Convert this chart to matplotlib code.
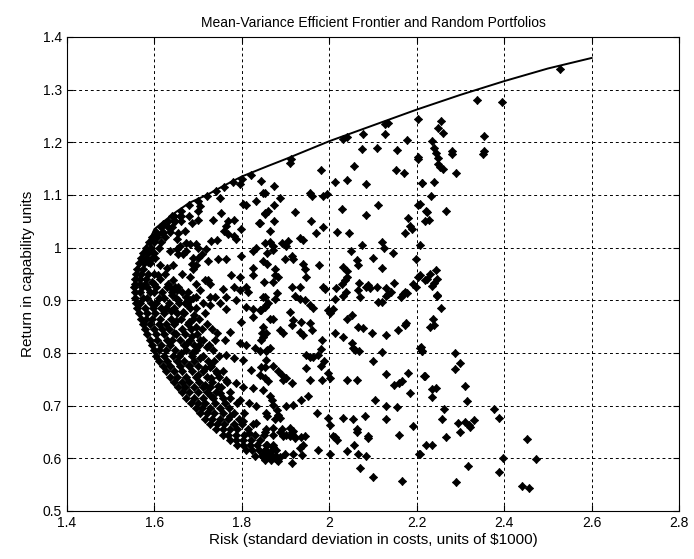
import matplotlib
matplotlib.use("Agg")
import matplotlib.pyplot as plt

# efficient frontier
frontier_risk = [1.556, 1.553, 1.555, 1.561, 1.569, 1.58, 1.592, 1.60, 1.625, 1.65, 1.68,
                 1.72, 1.76, 1.80, 1.86, 1.90, 1.95, 2.0, 2.1, 2.2, 2.3, 2.4, 2.5, 2.6]
frontier_return = [0.90, 0.92, 0.94, 0.96, 0.98, 1.0, 1.02, 1.035, 1.052, 1.068, 1.085,
                   1.10, 1.118, 1.135, 1.155, 1.168, 1.185, 1.202, 1.232, 1.262, 1.29, 1.316, 1.34, 1.36]

# thick band of portfolios hugging the upper frontier
band_rows = [
    (1.06, [1.645, 1.66, 1.68]),
    (1.05, [1.63, 1.645, 1.66]),
    (1.04, [1.615, 1.63, 1.64]),
    (1.03, [1.603, 1.62, 1.635]),
    (1.02, [1.595, 1.607, 1.625]),
    (1.01, [1.588, 1.60, 1.615]),
    (1.00, [1.58, 1.592, 1.61]),
    (0.99, [1.574, 1.586, 1.60]),
    (0.98, [1.569, 1.58, 1.595]),
    (0.97, [1.565, 1.577, 1.59]),
    (0.96, [1.561, 1.574]),
    (0.95, [1.558, 1.57, 1.585]),
    (0.94, [1.556, 1.568, 1.58]),
    (0.93, [1.555, 1.566, 1.578, 1.60]),
]
band_pts = [(1.62, 1.045), (1.64, 1.06), (1.66, 1.07), (1.68, 1.08), (1.70, 1.088),
            (1.72, 1.098), (1.74, 1.108), (1.76, 1.115), (1.78, 1.125), (1.80, 1.13), (1.82, 1.137)]

# dense core of the cloud (return, risks)
core_rows = [
    (0.925, [1.553, 1.571, 1.584, 1.604, 1.628, 1.655]),
    (0.915, [1.556, 1.566, 1.589, 1.598, 1.617, 1.641, 1.663, 1.676]),
    (0.905, [1.555, 1.574, 1.583, 1.611, 1.622, 1.649, 1.688]),
    (0.895, [1.558, 1.568, 1.592, 1.604, 1.633, 1.657, 1.669, 1.71]),
    (0.885, [1.561, 1.579, 1.597, 1.615, 1.626, 1.644, 1.682, 1.695]),
    (0.875, [1.565, 1.584, 1.601, 1.622, 1.652, 1.668, 1.716]),
    (0.865, [1.569, 1.581, 1.594, 1.613, 1.638, 1.66, 1.689, 1.702]),
    (0.855, [1.574, 1.589, 1.61, 1.627, 1.645, 1.676, 1.72]),
    (0.845, [1.579, 1.598, 1.617, 1.633, 1.662, 1.684, 1.708, 1.731]),
    (0.835, [1.584, 1.603, 1.622, 1.649, 1.669, 1.697]),
    (0.825, [1.589, 1.607, 1.628, 1.641, 1.658, 1.681, 1.712, 1.738]),
    (0.815, [1.594, 1.614, 1.635, 1.667, 1.69, 1.703, 1.725]),
    (0.805, [1.598, 1.611, 1.626, 1.648, 1.673, 1.696, 1.733]),
    (0.795, [1.604, 1.622, 1.642, 1.657, 1.685, 1.71, 1.748]),
    (0.785, [1.611, 1.628, 1.651, 1.668, 1.691, 1.722, 1.737]),
    (0.775, [1.619, 1.636, 1.659, 1.678, 1.70, 1.729]),
    (0.765, [1.627, 1.645, 1.664, 1.687, 1.711, 1.74, 1.756]),
    (0.755, [1.636, 1.652, 1.673, 1.694, 1.72, 1.748]),
    (0.745, [1.645, 1.662, 1.68, 1.703, 1.731, 1.765]),
    (0.735, [1.654, 1.671, 1.691, 1.712, 1.727, 1.752]),
    (0.725, [1.663, 1.68, 1.699, 1.72, 1.741, 1.773]),
    (0.715, [1.672, 1.69, 1.71, 1.733, 1.756]),
    (0.705, [1.683, 1.699, 1.716, 1.739, 1.762, 1.789]),
    (0.695, [1.694, 1.708, 1.728, 1.749, 1.771]),
    (0.685, [1.704, 1.72, 1.737, 1.758, 1.783, 1.806]),
    (0.675, [1.715, 1.731, 1.75, 1.768, 1.794]),
    (0.665, [1.728, 1.742, 1.76, 1.781, 1.80, 1.826]),
    (0.655, [1.741, 1.756, 1.772, 1.79, 1.815]),
    (0.645, [1.756, 1.769, 1.787, 1.806, 1.829, 1.85]),
    (0.635, [1.772, 1.786, 1.802, 1.821, 1.842]),
    (0.625, [1.79, 1.803, 1.818, 1.834, 1.857, 1.872]),
    (0.615, [1.81, 1.824, 1.839, 1.853, 1.868]),
    (0.605, [1.831, 1.846, 1.861, 1.877]),
    (0.597, [1.852, 1.866, 1.881]),
]

# extra portfolios filling gaps in the dense core
core_fill = [
    (1.64, 0.91), (1.655, 0.90), (1.675, 0.893), (1.637, 0.88), (1.665, 0.878), (1.69, 0.872),
    (1.65, 0.86), (1.68, 0.858), (1.695, 0.85), (1.645, 0.838), (1.685, 0.832), (1.705, 0.825),
    (1.675, 0.818), (1.72, 0.812), (1.66, 0.80), (1.685, 0.80), (1.705, 0.79), (1.68, 0.778),
    (1.715, 0.772), (1.70, 0.758), (1.73, 0.752), (1.715, 0.74), (1.745, 0.738), (1.73, 0.718),
]

# scattered portfolios, upper left part
upper_left = [
    (1.844, 1.126), (1.849, 1.103), (1.833, 1.089), (1.802, 1.083), (1.81, 1.08), (1.795, 1.12),
    (1.749, 1.094), (1.753, 1.066), (1.734, 1.053), (1.768, 1.05), (1.781, 1.053), (1.764, 1.041),
    (1.76, 1.031), (1.768, 1.025), (1.781, 1.022), (1.787, 1.017), (1.798, 1.036), (1.84, 1.047),
    (1.852, 1.066), (1.70, 1.053), (1.685, 1.047), (1.67, 1.031), (1.655, 1.028), (1.651, 1.016),
    (1.70, 1.069), (1.704, 1.078), (1.658, 1.059), (1.647, 1.05), (1.617, 1.028), (1.605, 1.025),
    (1.673, 1.009), (1.681, 1.006), (1.696, 1.006), (1.70, 1.0), (1.73, 1.012), (1.742, 1.014),
    (1.719, 0.997), (1.708, 0.988), (1.723, 0.975), (1.673, 0.994), (1.666, 0.988), (1.689, 0.981),
    (1.685, 0.969), (1.70, 0.981), (1.696, 0.966), (1.689, 0.959), (1.655, 0.988), (1.643, 0.966),
    (1.613, 0.966), (1.628, 0.962), (1.745, 0.978), (1.764, 0.978), (1.798, 0.984), (1.825, 0.994),
    (1.833, 1.0), (1.848, 0.975), (1.825, 0.962), (1.825, 0.947), (1.776, 0.947), (1.795, 0.944),
    (1.723, 0.938), (1.726, 0.931), (1.715, 0.938), (1.757, 0.922), (1.783, 0.925), (1.795, 0.919),
    (1.81, 0.925), (1.813, 0.916), (1.852, 0.906), (1.643, 0.938), (1.647, 0.925), (1.651, 0.919),
    (1.632, 0.931), (1.636, 0.925), (1.609, 0.947), (1.613, 0.941), (1.594, 0.934), (1.651, 0.997),
    (1.658, 1.003), (1.636, 0.994), (1.601, 0.981), (1.586, 0.972), (1.598, 0.95), (1.624, 0.95),
    (1.662, 0.95), (1.681, 0.944), (1.696, 0.931), (1.704, 0.919), (1.738, 0.906), (1.764, 0.906),
    (1.726, 0.906), (1.673, 0.906), (1.696, 0.906), (1.681, 0.9),
]

# scattered portfolios, upper middle part
upper_mid = [
    (1.912, 1.169), (1.982, 1.147), (2.057, 1.155), (2.153, 1.147), (2.171, 1.141), (2.204, 1.168),
    (2.211, 1.123), (2.041, 1.128), (2.013, 1.125), (2.084, 1.121), (1.873, 1.117), (1.853, 1.104),
    (1.956, 1.103), (1.96, 1.098), (1.986, 1.097), (1.994, 1.101), (1.888, 1.095), (1.873, 1.081),
    (2.028, 1.074), (2.112, 1.081), (2.084, 1.061), (2.204, 1.081), (2.223, 1.067), (1.86, 1.069),
    (1.853, 1.063), (1.921, 1.067), (1.841, 1.047), (1.873, 1.05), (1.957, 1.05), (1.986, 1.039),
    (2.181, 1.056), (2.185, 1.041), (2.189, 1.036), (2.174, 1.028), (2.218, 1.05), (1.864, 1.031),
    (1.969, 1.027), (2.018, 1.029), (2.046, 1.027), (1.934, 1.019), (1.939, 1.014), (1.853, 1.009),
    (1.864, 1.011), (1.872, 1.003), (1.906, 1.012), (1.901, 1.003), (1.891, 1.008), (2.12, 1.011),
    (2.074, 1.005), (2.125, 0.999), (2.145, 0.99), (2.049, 0.993), (1.872, 0.995), (1.857, 0.99),
    (1.898, 0.979), (1.914, 0.984), (1.918, 0.979), (1.857, 0.969), (1.876, 0.959), (1.94, 0.969),
    (1.944, 0.959), (1.977, 0.966), (2.064, 0.976), (2.066, 0.966), (2.101, 0.98), (2.12, 0.961),
    (2.031, 0.964), (2.04, 0.956), (2.041, 0.945), (2.036, 0.938), (2.198, 0.978), (1.876, 0.947),
    (1.883, 0.944), (1.872, 0.934), (1.947, 0.945), (1.85, 0.934), (1.914, 0.925), (1.933, 0.925),
    (1.986, 0.925), (1.99, 0.922), (2.015, 0.924), (2.028, 0.931), (2.069, 0.932), (2.085, 0.925),
    (2.089, 0.928), (2.093, 0.924), (2.11, 0.926), (2.13, 0.923), (2.135, 0.912), (2.148, 0.932),
    (2.169, 0.911), (2.177, 0.914), (2.192, 0.931), (2.198, 0.925), (2.204, 0.945), (2.219, 0.938),
]

# scattered portfolios, top right part
upper_right = [
    (2.527, 1.339), (2.337, 1.281), (2.396, 1.276), (2.204, 1.244), (2.255, 1.24), (2.249, 1.227),
    (2.259, 1.218), (2.128, 1.234), (2.135, 1.237), (2.077, 1.216), (2.031, 1.206), (2.04, 1.209),
    (2.128, 1.215), (2.177, 1.205), (2.236, 1.202), (2.354, 1.211), (2.075, 1.187), (2.109, 1.189),
    (2.154, 1.186), (2.24, 1.189), (2.28, 1.183), (2.353, 1.183), (2.204, 1.172), (2.249, 1.17),
    (1.911, 1.16), (2.243, 1.18), (2.281, 1.177), (2.351, 1.177), (2.248, 1.158), (2.254, 1.153),
    (2.26, 1.15), (2.29, 1.141), (2.212, 1.122), (2.239, 1.125), (2.233, 1.097), (2.208, 1.083),
    (2.222, 1.069), (2.268, 1.07), (2.229, 1.053), (2.208, 1.005), (2.208, 0.947), (2.23, 0.949),
    (2.243, 0.957), (2.224, 0.94), (2.246, 0.941), (2.24, 0.932), (2.236, 0.927), (2.246, 0.91),
]

# scattered portfolios, lower middle part
lower_mid = [
    (1.849, 0.906), (1.86, 0.894), (1.876, 0.903), (1.88, 0.913), (1.841, 0.881), (1.853, 0.887),
    (1.921, 0.909), (1.933, 0.903), (1.944, 0.9), (1.956, 0.891), (1.962, 0.886), (2.013, 0.903),
    (2.031, 0.909), (2.038, 0.916), (2.066, 0.919), (2.07, 0.906), (2.112, 0.897), (2.12, 0.897),
    (2.13, 0.909), (2.142, 0.916), (2.165, 0.906), (2.172, 0.916), (1.998, 0.881), (2.002, 0.875),
    (2.009, 0.884), (1.911, 0.878), (1.918, 0.862), (1.914, 0.853), (1.936, 0.859), (1.956, 0.856),
    (1.96, 0.843), (1.864, 0.865), (1.872, 0.865), (1.845, 0.837), (1.849, 0.831), (1.887, 0.843),
    (1.895, 0.837), (1.933, 0.84), (1.94, 0.834), (1.983, 0.825), (2.013, 0.837), (2.031, 0.831),
    (2.04, 0.865), (2.052, 0.872), (2.066, 0.85), (2.078, 0.847), (2.098, 0.838), (2.13, 0.834),
    (2.157, 0.843), (2.172, 0.853), (2.176, 0.856), (2.052, 0.818), (2.055, 0.809), (2.067, 0.803),
    (2.059, 0.806), (2.12, 0.801), (2.208, 0.809), (2.212, 0.803), (1.841, 0.803), (1.857, 0.806),
    (1.864, 0.809), (1.947, 0.796), (1.956, 0.793), (1.963, 0.793), (1.974, 0.796), (1.981, 0.807),
    (1.989, 0.784), (2.101, 0.784), (1.853, 0.774), (1.872, 0.775), (1.947, 0.771), (1.981, 0.775),
    (1.883, 0.765), (1.891, 0.759), (1.902, 0.752), (1.895, 0.749), (1.914, 0.743), (1.841, 0.759),
    (1.853, 0.752), (1.86, 0.746), (1.956, 0.749), (1.983, 0.749), (1.998, 0.762), (2.002, 0.752),
    (2.04, 0.749), (2.063, 0.748), (2.13, 0.76), (2.179, 0.762), (2.148, 0.74), (2.16, 0.743),
    (2.167, 0.746), (2.216, 0.757), (2.185, 0.724), (1.864, 0.718), (1.868, 0.711), (1.872, 0.702),
    (1.936, 0.711), (1.952, 0.718), (1.918, 0.702), (1.902, 0.699), (2.105, 0.711), (2.13, 0.699),
    (2.154, 0.697), (1.88, 0.692), (1.883, 0.683), (1.887, 0.677), (1.876, 0.674), (1.857, 0.68),
    (1.971, 0.685), (1.998, 0.677), (2.002, 0.664), (2.031, 0.677), (2.055, 0.675), (2.082, 0.681),
    (2.063, 0.655), (2.13, 0.675), (2.191, 0.662), (1.872, 0.658), (1.891, 0.655), (1.911, 0.658),
    (1.918, 0.652), (1.895, 0.642), (1.911, 0.642), (1.922, 0.641), (1.944, 0.643), (2.009, 0.642),
    (2.089, 0.642), (2.16, 0.645), (1.852, 0.65), (1.871, 0.644), (1.887, 0.65), (1.902, 0.644),
    (1.914, 0.65), (1.921, 0.638), (1.936, 0.641), (2.013, 0.641), (2.018, 0.635), (2.063, 0.65),
    (2.089, 0.638), (2.222, 0.625), (1.852, 0.616), (1.86, 0.609), (1.868, 0.606), (1.876, 0.6),
    (1.883, 0.594), (1.856, 0.625), (1.871, 0.622), (1.849, 0.609), (1.887, 0.603), (1.879, 0.616),
    (1.899, 0.609), (1.918, 0.609), (1.933, 0.619), (1.937, 0.606), (1.94, 0.625), (1.914, 0.591),
    (1.975, 0.616), (2.002, 0.609), (2.04, 0.614), (2.057, 0.625), (2.066, 0.609), (2.083, 0.604),
    (2.07, 0.582), (2.101, 0.564), (2.166, 0.557), (2.206, 0.609),
]

# scattered portfolios, lower right part
lower_right = [
    (2.246, 0.909), (2.256, 0.886), (2.237, 0.865), (2.23, 0.85), (2.239, 0.853), (2.21, 0.811),
    (2.212, 0.804), (2.287, 0.8), (2.3, 0.78), (2.287, 0.77), (2.219, 0.757), (2.235, 0.731),
    (2.245, 0.733), (2.235, 0.716), (2.31, 0.738), (2.314, 0.708), (2.263, 0.694), (2.377, 0.694),
    (2.387, 0.676), (2.257, 0.674), (2.294, 0.667), (2.311, 0.668), (2.319, 0.664), (2.322, 0.66),
    (2.332, 0.672), (2.298, 0.65), (2.267, 0.64), (2.452, 0.636), (2.208, 0.609), (2.235, 0.625),
    (2.397, 0.601), (2.473, 0.599), (2.317, 0.585), (2.387, 0.573), (2.29, 0.555), (2.44, 0.547),
    (2.456, 0.543),
]

# scattered portfolios just right of the dense core
core_edge = [
    (1.727, 0.891), (1.749, 0.894), (1.764, 0.884), (1.787, 0.9), (1.81, 0.887), (1.825, 0.884),
    (1.844, 0.881), (1.855, 0.891), (1.798, 0.859), (1.825, 0.869), (1.848, 0.85), (1.855, 0.837),
    (1.742, 0.837), (1.761, 0.825), (1.772, 0.84), (1.795, 0.818), (1.81, 0.815), (1.829, 0.809),
    (1.844, 0.825), (1.855, 0.803), (1.764, 0.796), (1.783, 0.79), (1.802, 0.787), (1.821, 0.768),
    (1.844, 0.774), (1.855, 0.787), (1.727, 0.774), (1.742, 0.762), (1.764, 0.749), (1.787, 0.743),
    (1.802, 0.736), (1.825, 0.733), (1.848, 0.73), (1.749, 0.724), (1.772, 0.714), (1.795, 0.711),
    (1.817, 0.705), (1.833, 0.699), (1.855, 0.686), (1.772, 0.68), (1.802, 0.67), (1.833, 0.667),
    (1.855, 0.655), (1.817, 0.648),
]

x_ticks = [1.4, 1.6, 1.8, 2.0, 2.2, 2.4, 2.6, 2.8]
x_labels = ['1.4', '1.6', '1.8', '2', '2.2', '2.4', '2.6', '2.8']
y_ticks = [0.5, 0.6, 0.7, 0.8, 0.9, 1.0, 1.1, 1.2, 1.3, 1.4]
y_labels = ['0.5', '0.6', '0.7', '0.8', '0.9', '1', '1.1', '1.2', '1.3', '1.4']

pts = []
for r, xs in band_rows + core_rows:
    pts += [(x, r) for x in xs]
pts += band_pts + core_fill + upper_left + upper_mid + upper_right + lower_mid + lower_right + core_edge
risk = [p[0] for p in pts]
ret = [p[1] for p in pts]

plt.rcParams['font.family'] = ['Liberation Sans', 'DejaVu Sans']
fig = plt.figure(figsize=(6.94, 5.59), dpi=100)
ax = fig.add_axes([0.0965, 0.086, 0.882, 0.848])

# diamond body plus short cross arms, like the old MATLAB marker
ax.plot(risk, ret, linestyle='none', marker='D', markersize=3.6,
        color='black', markeredgewidth=0.5)
ax.plot(risk, ret, linestyle='none', marker='+', markersize=6,
        color='black', markeredgewidth=1.0)
ax.plot(frontier_risk, frontier_return, color='black', linewidth=1.4)

ax.set_xlim(1.4, 2.8)
ax.set_ylim(0.5, 1.4)
ax.set_xticks(x_ticks)
ax.set_xticklabels(x_labels)
ax.set_yticks(y_ticks)
ax.set_yticklabels(y_labels)
ax.grid(True, color='black', linestyle=(0, (3, 3)), linewidth=0.7)
ax.set_axisbelow(True)
ax.tick_params(direction='in', top=True, right=True, length=4, labelsize=10)
for s in ax.spines.values():
    s.set_linewidth(0.8)

ax.set_title('Mean-Variance Efficient Frontier and Random Portfolios', fontsize=10, pad=7)
ax.set_xlabel('Risk (standard deviation in costs, units of \\$1000)', fontsize=11, labelpad=2)
ax.set_ylabel('Return in capability units', fontsize=11, labelpad=6)

fig.savefig('out.png', dpi=100)
